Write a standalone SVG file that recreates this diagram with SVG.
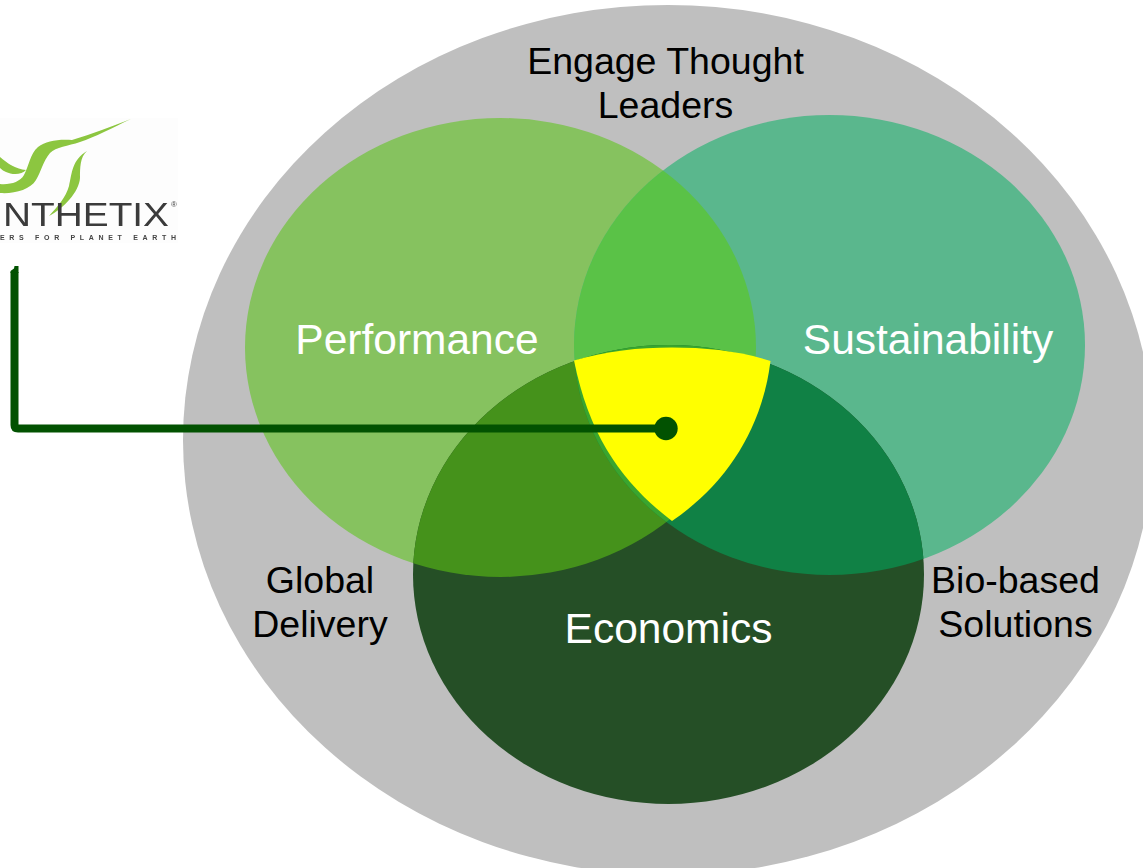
<svg xmlns="http://www.w3.org/2000/svg" width="1143" height="868" viewBox="0 0 1143 868">
  <style>
    text { font-family: "Liberation Sans", Arial, sans-serif; text-anchor: middle; }
    .dark { font-size: 37.500px; fill: #000; }
    .light { font-size: 42.500px; fill: #fff; }
    .swoosh { fill: #8cc63f; }
  </style>
  <defs>
    <clipPath id="clipP"><ellipse cx="500.5" cy="347.5" rx="255.5" ry="229.5"/></clipPath>
    <clipPath id="clipS"><ellipse cx="829.5" cy="345" rx="255.5" ry="230"/></clipPath>
    <clipPath id="clipLogo"><rect x="0" y="110" width="178" height="140"/></clipPath>
    <filter id="soft" x="-5%" y="-5%" width="110%" height="110%"><feGaussianBlur stdDeviation="0.6"/></filter>
  </defs>
  <rect width="1143" height="868" fill="#fff"/>
  <g id="outer">
    <ellipse cx="668" cy="440" rx="485" ry="435" fill="#bfbfbf"/>
    <text class="dark" x="665.500" y="74">Engage Thought</text>
    <text class="dark" x="665.500" y="118">Leaders</text>
    <text class="dark" x="320" y="593">Global</text>
    <text class="dark" x="320" y="637">Delivery</text>
    <text class="dark" x="1015.500" y="593">Bio-based</text>
    <text class="dark" x="1015.500" y="637">Solutions</text>
  </g>
  <g id="performance">
    <ellipse cx="500.5" cy="347.5" rx="255.5" ry="229.5" fill="#86c25f"/>
  </g>
  <g id="sustainability">
    <ellipse cx="829.5" cy="345" rx="255.5" ry="230" fill="#5ab78d"/>
  </g>
  <g id="economics">
    <ellipse cx="668.5" cy="574.5" rx="255.5" ry="229.5" fill="#254f26"/>
  </g>
  <g id="overlaps">
    <g clip-path="url(#clipP)"><ellipse cx="829.5" cy="345" rx="255.5" ry="230" fill="#5ac247"/></g>
    <g clip-path="url(#clipP)"><ellipse cx="668.5" cy="574.5" rx="255.5" ry="229.5" fill="#45921b"/></g>
    <g clip-path="url(#clipS)"><ellipse cx="668.5" cy="574.5" rx="255.5" ry="229.5" fill="#108145"/></g>
    <g clip-path="url(#clipP)"><g clip-path="url(#clipS)"><ellipse cx="668.5" cy="574.5" rx="255.5" ry="229.5" fill="#3aa52e"/></g></g>
  </g>
  <g id="center">
    <path d="M574 360.500C607 351 638 347.500 672 347.500C706 347.500 740 351 770.500 361C762 430 725 485 672 521C625 485 590 440 574 360.500Z" fill="#ffff00"/>
  </g>
  <g id="labels">
    <text class="light" x="417" y="354">Performance</text>
    <text class="light" x="928" y="354">Sustainability</text>
    <text class="light" x="668.500" y="643">Economics</text>
  </g>
  <g id="logo" clip-path="url(#clipLogo)">
    <rect x="0" y="118" width="178" height="125" fill="#fdfdfd"/>
    <g filter="url(#soft)">
      <path class="swoosh" d="M131 119C112 128 95 137 80 142C68 146 56 147 50 153C43 161 41 172 36 180C30 190 14 194 0 193V184C10 185 20 182 24 175C29 166 30 154 38 147C46 141 58 139 72 140C92 134 112 126 131 119Z"/>
      <path class="swoosh" d="M0 157C8 164 16 169 26 170C22 175 12 175 6 172C4 171 2 170 0 168Z"/>
      <path class="swoosh" d="M87 151C80 157 80 168 80 178C79 192 64 208 49 216C58 206 66 197 69 186C72 173 72 160 87 151Z"/>
      <text x="86" y="226" textLength="166" lengthAdjust="spacingAndGlyphs" style="font-size:33.500px;fill:#3a3a3a">NTHETIX</text>
      <text x="177" y="207" style="font-size:8px;fill:#444;text-anchor:end">®</text>
      <text x="88" y="240" textLength="176" lengthAdjust="spacing" style="font-size:7px;fill:#444;font-weight:bold">ERS FOR PLANET EARTH</text>
    </g>
  </g>
  <g id="connectors">
    <path d="M14.500 272V425Q14.500 428.500 18 428.500H666" fill="none" stroke="#025201" stroke-width="8"/>
    <path d="M10.500 273V271L14 268.500L14.500 266L18.500 266V273Z" fill="#025201"/>
    <circle cx="666" cy="428.500" r="11.700" fill="#025201"/>
  </g>
</svg>
